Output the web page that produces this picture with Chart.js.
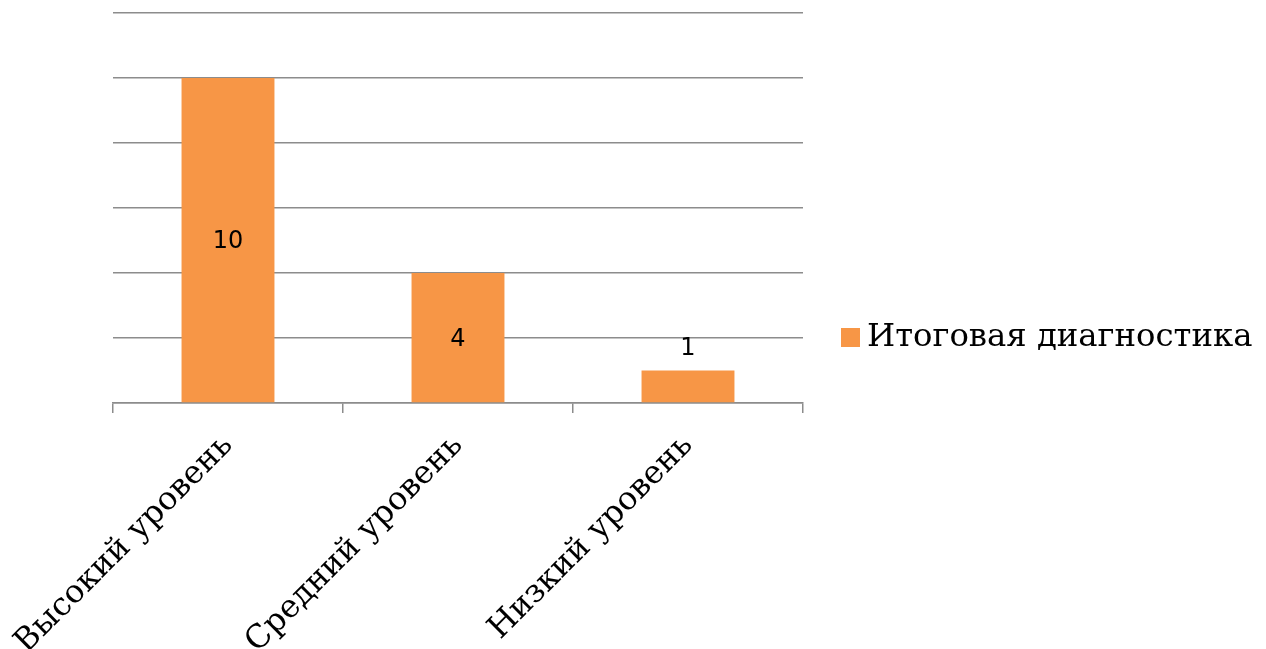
<!DOCTYPE html>
<html lang="ru">
<head>
<meta charset="utf-8">
<title>Итоговая диагностика</title>
<script src="https://cdn.jsdelivr.net/npm/chart.js@4.4.1/dist/chart.umd.min.js"></script>
<style>
    html, body { margin: 0; padding: 0; background: #ffffff; }
    #wrap { width: 1266px; height: 649px; }
</style>
</head>
<body>
<div id="wrap"><canvas id="chart" width="1266" height="649"></canvas></div>
<script>
// Dati del grafico
const categories = ['Высокий уровень', 'Средний уровень', 'Низкий уровень'];
const seriesName = 'Итоговая диагностика';
const seriesValues = [10, 4, 1];
const yTicks = [0, 2, 4, 6, 8, 10, 12];

const barColor = '#F79646';
const gridColor = '#8c8c8c';
const serif = "'DejaVu Serif', 'Liberation Serif', serif";
const sans = "'DejaVu Sans', 'Liberation Sans', sans-serif";

// Etichette dei valori (centro della barra, o sopra se la barra è bassa)
const valueLabels = {
    id: 'valueLabels',
    afterDatasetsDraw(chart) {
        const ctx = chart.ctx;
        const meta = chart.getDatasetMeta(0);
        ctx.save();
        ctx.font = '24px ' + sans;
        ctx.fillStyle = '#000000';
        ctx.textAlign = 'center';
        meta.data.forEach((bar, i) => {
            const h = bar.base - bar.y;
            if (h > 40) {
                ctx.textBaseline = 'middle';
                ctx.fillText(String(seriesValues[i]), bar.x, bar.y + h / 2 + 2);
            } else {
                ctx.textBaseline = 'bottom';
                ctx.fillText(String(seriesValues[i]), bar.x, bar.y - 10);
            }
        });
        ctx.restore();
    }
};

// Legenda a destra
const sideLegend = {
    id: 'sideLegend',
    afterDraw(chart) {
        const ctx = chart.ctx;
        const cy = 337;
        ctx.save();
        ctx.fillStyle = barColor;
        ctx.fillRect(841, cy - 9, 19, 19);
        ctx.fillStyle = '#000000';
        ctx.font = '32.3px ' + serif;
        ctx.textAlign = 'left';
        ctx.textBaseline = 'middle';
        ctx.fillText(chart.data.datasets[0].label, 867, cy + 1);
        ctx.restore();
    }
};

new Chart(document.getElementById('chart').getContext('2d'), {
    type: 'bar',
    data: {
        labels: categories,
        datasets: [{
            label: seriesName,
            data: seriesValues,
            backgroundColor: barColor,
            borderWidth: 0,
            categoryPercentage: 0.8,
            barPercentage: 0.505
        }]
    },
    options: {
        responsive: false,
        animation: false,
        devicePixelRatio: 1,
        layout: { padding: { left: 113, top: 13, right: 463, bottom: 0 } },
        plugins: {
            legend: { display: false },
            tooltip: { enabled: false }
        },
        scales: {
            x: {
                afterFit: function(scale) {
                    scale.height = 246;
                    scale.paddingLeft = 0;
                    scale.paddingRight = 0;
                },
                grid: {
                    offset: true,
                    drawOnChartArea: false,
                    drawTicks: true,
                    tickLength: 10,
                    color: gridColor,
                    lineWidth: 1.5
                },
                border: { display: true, color: gridColor, width: 1.5 },
                ticks: {
                    maxRotation: 45,
                    minRotation: 45,
                    padding: 14,
                    color: '#000000',
                    font: { family: serif, size: 32 }
                }
            },
            y: {
                min: yTicks[0],
                max: yTicks[yTicks.length - 1],
                afterFit: function(scale) { scale.width = 0; },
                afterBuildTicks: function(scale) {
                    scale.ticks = yTicks.map(v => ({ value: v }));
                },
                grid: { color: gridColor, lineWidth: 1.5, drawTicks: false },
                border: { display: false },
                ticks: { display: false }
            }
        }
    },
    plugins: [valueLabels, sideLegend]
});
</script>
</body>
</html>
